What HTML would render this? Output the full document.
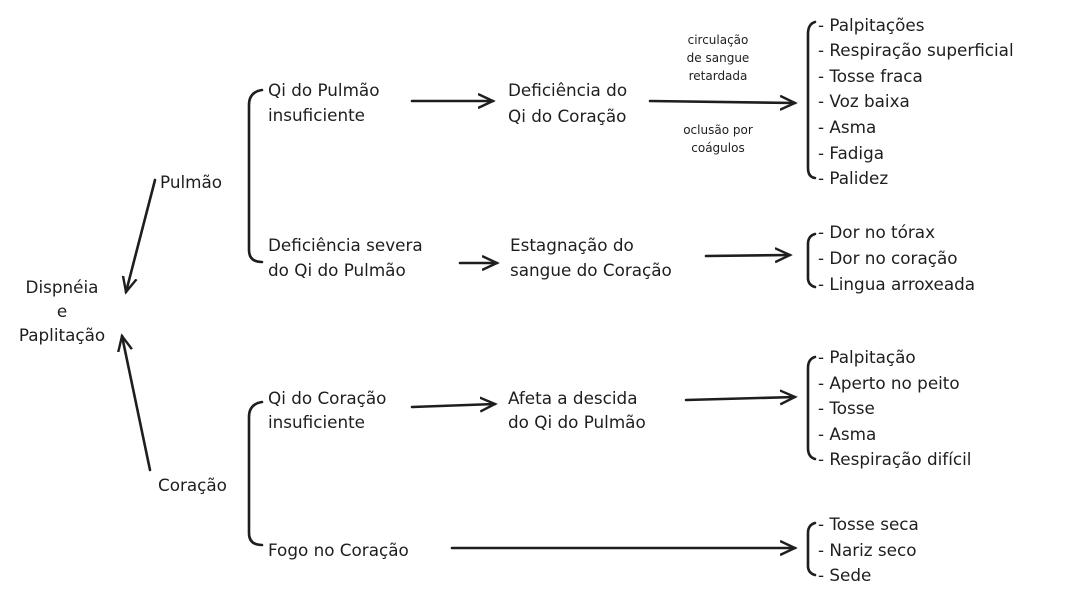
<!DOCTYPE html>
<html><head><meta charset="utf-8"><style>
html,body{margin:0;padding:0;background:#fff;width:1070px;height:600px;overflow:hidden}
svg text{font-family:"DejaVu Sans","Liberation Sans",sans-serif;font-size:16.8px;fill:#1e1e1e}
svg text.s{font-size:12px}
</style></head><body>
<svg width="1070" height="600" viewBox="0 0 1070 600" xmlns="http://www.w3.org/2000/svg">
<defs><marker id="a" markerWidth="18" markerHeight="18" refX="15" refY="8" orient="auto" markerUnits="userSpaceOnUse"><path d="M0,1 L15,8 L0,15" fill="none" stroke="#1e1e1e" stroke-width="2.4"/></marker></defs>
<g stroke="#1e1e1e" stroke-width="2.6" fill="none" stroke-linecap="round">
<path d="M155,180 L126,292" marker-end="url(#a)"/>
<path d="M150,470 L122,336" marker-end="url(#a)"/>
<path d="M262,90 Q249,92 249,105 L249,250 Q249,262 262,262"/>
<path d="M262,402 Q249,404 249,417 L249,533 Q249,545 262,545"/>
<path d="M412,101 L493,101" marker-end="url(#a)"/>
<path d="M650,101 L795,103" marker-end="url(#a)"/>
<path d="M460,263 L497,263" marker-end="url(#a)"/>
<path d="M706,256 L790,255" marker-end="url(#a)"/>
<path d="M412,407 L495,404" marker-end="url(#a)"/>
<path d="M686,400 L795,397" marker-end="url(#a)"/>
<path d="M452,548 L795,548" marker-end="url(#a)"/>
<path d="M815,22 Q808,24 808,34 L808,168 Q808,177 815,178"/>
<path d="M815,234 Q808,236 808,244 L808,278 Q808,285 815,287"/>
<path d="M815,357 Q808,359 808,368 L808,448 Q808,457 815,459"/>
<path d="M815,523 Q808,525 808,533 L808,566 Q808,573 815,575"/>
</g>
<text x="62" y="293" text-anchor="middle">Dispnéia</text>
<text x="62" y="317" text-anchor="middle">e</text>
<text x="62" y="341" text-anchor="middle">Paplitação</text>
<text x="160" y="188">Pulmão</text>
<text x="158" y="491">Coração</text>
<text x="268" y="96">Qi do Pulmão</text>
<text x="268" y="121">insuficiente</text>
<text x="508" y="96">Deficiência do</text>
<text x="508" y="122">Qi do Coração</text>
<text class="s" x="718" y="44" text-anchor="middle">circulação</text>
<text class="s" x="718" y="62" text-anchor="middle">de sangue</text>
<text class="s" x="718" y="80" text-anchor="middle">retardada</text>
<text class="s" x="718" y="134" text-anchor="middle">oclusão por</text>
<text class="s" x="718" y="152" text-anchor="middle">coágulos</text>
<text x="818" y="31">- Palpitações</text>
<text x="818" y="56">- Respiração superficial</text>
<text x="818" y="82">- Tosse fraca</text>
<text x="818" y="107">- Voz baixa</text>
<text x="818" y="133">- Asma</text>
<text x="818" y="159">- Fadiga</text>
<text x="818" y="184">- Palidez</text>
<text x="268" y="251">Deficiência severa</text>
<text x="268" y="276">do Qi do Pulmão</text>
<text x="510" y="251">Estagnação do</text>
<text x="510" y="276">sangue do Coração</text>
<text x="818" y="238">- Dor no tórax</text>
<text x="818" y="264">- Dor no coração</text>
<text x="818" y="290">- Lingua arroxeada</text>
<text x="268" y="404">Qi do Coração</text>
<text x="268" y="428">insuficiente</text>
<text x="508" y="404">Afeta a descida</text>
<text x="508" y="428">do Qi do Pulmão</text>
<text x="818" y="363">- Palpitação</text>
<text x="818" y="389">- Aperto no peito</text>
<text x="818" y="414">- Tosse</text>
<text x="818" y="440">- Asma</text>
<text x="818" y="465">- Respiração difícil</text>
<text x="268" y="556">Fogo no Coração</text>
<text x="818" y="530">- Tosse seca</text>
<text x="818" y="556">- Nariz seco</text>
<text x="818" y="581">- Sede</text>
</svg>
</body></html>
